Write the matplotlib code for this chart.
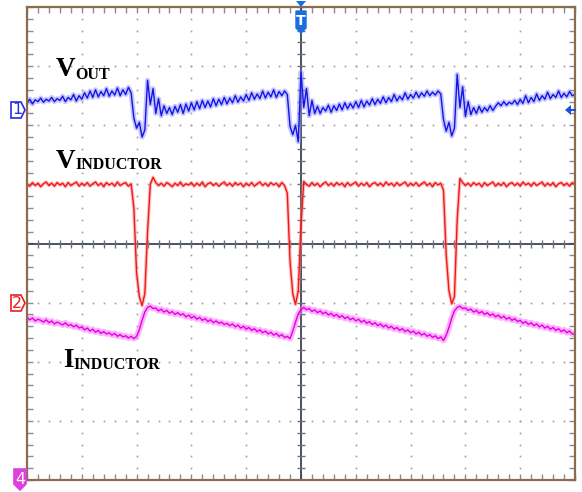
import numpy as np
import matplotlib
matplotlib.use("Agg")
from matplotlib import pyplot as plt
from matplotlib.patches import Polygon

W, H = 582, 492

# scope traces, one sample every 0.05 division, values in divisions
T_STEP = 0.05
v_out = [
    2.38, 2.44, 2.36, 2.43, 2.40, 2.46, 2.39, 2.44, 2.41, 2.47, 2.40, 2.45, 2.42, 2.49, 2.40, 2.47, 2.43, 2.52, 2.41, 2.50,
    2.44, 2.55, 2.46, 2.58, 2.47, 2.60, 2.48, 2.57, 2.50, 2.62, 2.49, 2.58, 2.51, 2.63, 2.50, 2.60, 2.52, 2.64, 2.55, 2.12,
    1.95, 2.05, 1.80, 1.92, 2.76, 2.35, 2.62, 2.20, 2.45, 2.16, 2.33, 2.20, 2.30, 2.18, 2.32, 2.22, 2.35, 2.20, 2.36, 2.24,
    2.38, 2.26, 2.40, 2.28, 2.42, 2.30, 2.41, 2.31, 2.45, 2.33, 2.44, 2.35, 2.47, 2.36, 2.46, 2.38, 2.50, 2.39, 2.48, 2.41,
    2.52, 2.42, 2.55, 2.44, 2.53, 2.45, 2.58, 2.46, 2.56, 2.48, 2.60, 2.47, 2.57, 2.50, 2.58, 2.52, 1.98, 1.84, 2.00, 1.72,
    2.90, 2.30, 2.62, 2.16, 2.42, 2.20, 2.32, 2.20, 2.30, 2.24, 2.34, 2.22, 2.33, 2.25, 2.36, 2.26, 2.38, 2.28, 2.37, 2.29,
    2.40, 2.30, 2.42, 2.31, 2.41, 2.34, 2.45, 2.35, 2.44, 2.37, 2.48, 2.38, 2.47, 2.40, 2.52, 2.41, 2.49, 2.43, 2.55, 2.44,
    2.52, 2.46, 2.56, 2.47, 2.55, 2.49, 2.58, 2.50, 2.56, 2.51, 2.58, 2.53, 2.10, 1.90, 2.05, 1.82, 1.95, 2.86, 2.30, 2.65,
    2.15, 2.40, 2.18, 2.30, 2.20, 2.32, 2.22, 2.30, 2.24, 2.33, 2.25, 2.32, 2.38, 2.33, 2.40, 2.34, 2.39, 2.36, 2.42, 2.35,
    2.44, 2.37, 2.50, 2.38, 2.47, 2.40, 2.53, 2.42, 2.50, 2.44, 2.56, 2.45, 2.52, 2.47, 2.58, 2.47, 2.54, 2.48, 2.57, 2.50,
    2.52,
]
v_inductor = [
    1.00, 0.97, 1.03, 0.98, 1.02, 0.96, 1.01, 1.04, 0.98, 1.02, 0.97, 1.03, 0.99, 1.02, 0.96, 1.03, 0.98, 1.01, 1.04, 0.97,
    1.02, 0.98, 1.03, 0.97, 1.01, 1.04, 0.98, 1.02, 0.96, 1.03, 0.99, 1.02, 0.97, 1.04, 0.98, 1.01, 1.03, 0.97, 1.01, 0.60,
    -0.50, -0.90, -1.05, -0.85, 0.20, 1.00, 1.12, 1.03, 0.98, 1.02, 0.97, 1.03, 1.00, 0.96, 1.02, 0.98, 1.04, 0.97, 1.01, 0.99,
    1.03, 0.97, 1.02, 0.98, 1.04, 0.96, 1.01, 1.03, 0.98, 1.02, 0.97, 1.01, 1.04, 0.98, 1.02, 0.97, 1.03, 0.99, 1.02, 0.96,
    1.02, 0.98, 1.03, 0.97, 1.01, 1.04, 0.98, 1.02, 0.97, 1.03, 0.99, 1.02, 0.96, 1.03, 0.98, 0.85, -0.30, -0.85, -1.03, -0.80,
    0.30, 1.05, 1.00, 0.97, 1.03, 0.98, 1.02, 0.96, 1.01, 1.04, 0.98, 1.02, 0.97, 1.03, 0.99, 1.02, 0.96, 1.03, 0.98, 1.01,
    1.04, 0.97, 1.02, 0.98, 1.03, 0.96, 1.01, 1.03, 0.98, 1.02, 0.97, 1.04, 0.99, 1.02, 0.97, 1.03, 0.98, 1.01, 1.04, 0.97,
    1.02, 0.98, 1.03, 0.97, 1.01, 1.04, 0.98, 1.02, 0.96, 1.03, 0.99, 1.02, 0.90, -0.20, -0.80, -1.02, -0.90, 0.40, 1.10, 1.03,
    0.98, 1.02, 0.97, 1.03, 0.99, 1.02, 0.96, 1.03, 0.98, 1.01, 1.04, 0.97, 1.02, 0.98, 1.03, 0.96, 1.01, 1.03, 0.98, 1.02,
    0.97, 1.04, 0.99, 1.02, 0.97, 1.03, 0.98, 1.01, 1.04, 0.97, 1.02, 0.98, 1.03, 0.96, 1.01, 1.03, 0.98, 1.02, 0.97, 1.03,
    1.00,
]
i_inductor = [
    -1.25, -1.29, -1.26, -1.31, -1.28, -1.30, -1.33, -1.29, -1.34, -1.31, -1.36, -1.33, -1.35, -1.38, -1.34, -1.39, -1.37, -1.41, -1.38, -1.43,
    -1.41, -1.46, -1.43, -1.48, -1.45, -1.50, -1.47, -1.52, -1.49, -1.53, -1.51, -1.55, -1.52, -1.57, -1.54, -1.58, -1.56, -1.60, -1.57, -1.61,
    -1.57, -1.46, -1.30, -1.16, -1.08, -1.06, -1.10, -1.09, -1.14, -1.11, -1.16, -1.13, -1.18, -1.15, -1.20, -1.17, -1.21, -1.19, -1.24, -1.21,
    -1.26, -1.23, -1.28, -1.25, -1.30, -1.27, -1.32, -1.29, -1.34, -1.31, -1.35, -1.33, -1.37, -1.35, -1.39, -1.36, -1.41, -1.38, -1.43, -1.40,
    -1.45, -1.42, -1.47, -1.44, -1.49, -1.46, -1.51, -1.48, -1.53, -1.50, -1.55, -1.52, -1.57, -1.54, -1.59, -1.57, -1.61, -1.48, -1.33, -1.19,
    -1.12, -1.08, -1.12, -1.10, -1.15, -1.12, -1.17, -1.14, -1.19, -1.16, -1.21, -1.18, -1.23, -1.20, -1.25, -1.22, -1.27, -1.24, -1.29, -1.26,
    -1.31, -1.28, -1.33, -1.30, -1.35, -1.32, -1.37, -1.34, -1.39, -1.36, -1.41, -1.38, -1.43, -1.40, -1.45, -1.42, -1.47, -1.44, -1.49, -1.46,
    -1.51, -1.48, -1.53, -1.50, -1.55, -1.52, -1.57, -1.54, -1.59, -1.56, -1.61, -1.58, -1.64, -1.55, -1.42, -1.26, -1.14, -1.08, -1.06, -1.10,
    -1.09, -1.13, -1.11, -1.16, -1.13, -1.18, -1.15, -1.20, -1.17, -1.22, -1.19, -1.24, -1.21, -1.26, -1.23, -1.28, -1.25, -1.30, -1.27, -1.32,
    -1.30, -1.35, -1.32, -1.37, -1.34, -1.39, -1.36, -1.41, -1.38, -1.43, -1.40, -1.45, -1.42, -1.47, -1.44, -1.49, -1.46, -1.51, -1.48, -1.53,
    -1.54,
]

t = np.arange(len(v_out)) * T_STEP

BORDER = "#8c6c4c"
GRID = "#9a9aaa"
CENTER = "#3c4452"


def fpos(x, y):
    # pixel position (from top-left) -> figure fraction
    return (x / W, 1 - y / H)


fig = plt.figure(figsize=(W / 100, H / 100), dpi=100)
ax = fig.add_axes([27 / W, 1 - 480 / H, 548 / W, 473 / H])
ax.set_xlim(0, 10)
ax.set_ylim(-4, 4)

minor_x = np.arange(0, 10.001, 0.2)
minor_y = np.arange(-4, 4.001, 0.2)

# dotted graticule
for gx in [1, 2, 3, 4, 6, 7, 8, 9]:
    ax.plot(np.full_like(minor_y, gx), minor_y, ls="none", marker="s", ms=1.2, mew=0, color=GRID, zorder=1)
for gy in [-3, -2, -1, 1, 2, 3]:
    ax.plot(minor_x, np.full_like(minor_x, gy), ls="none", marker="s", ms=1.2, mew=0, color=GRID, zorder=1)

# centre axes with tick marks
ax.axvline(5, color=CENTER, lw=1.3, zorder=2)
ax.axhline(0, color=CENTER, lw=1.3, zorder=2)
ax.plot(minor_x, np.zeros_like(minor_x), ls="none", marker="|", ms=6, mew=1, color="#6a7080", zorder=2)
ax.plot(np.full_like(minor_y, 5), minor_y, ls="none", marker="_", ms=6, mew=1, color="#6a7080", zorder=2)

ax.set_xticks(minor_x)
ax.set_yticks(minor_y)
ax.tick_params(direction="in", length=4, width=1, color="#8a8a9a", top=True, right=True,
               labelbottom=False, labelleft=False)
for s in ax.spines.values():
    s.set_color(BORDER)
    s.set_linewidth(1.6)
    s.set_zorder(5)

# traces: light band under a thin line to look like a noisy scope trace
ax.plot(t, v_out, color="#8c8cff", lw=3.6, alpha=0.5, zorder=3)
ax.plot(t, v_out, color="#1414e6", lw=1.0, zorder=4)
ax.plot(t, v_inductor, color="#ff8080", lw=2.6, alpha=0.5, zorder=3)
ax.plot(t, v_inductor, color="#f01818", lw=1.0, zorder=4)
ax.plot(t, i_inductor, color="#ff70ff", lw=4.2, alpha=0.55, zorder=3)
ax.plot(t, i_inductor, color="#e000e0", lw=1.0, zorder=4)

# labels
big = dict(family="Liberation Serif", weight="bold", fontsize=19.5, color="black", va="baseline", ha="left")
small = dict(family="Liberation Serif", weight="bold", fontsize=11.5, color="black", va="baseline", ha="left")
fig.text(*fpos(56, 76), "V", **big)
fig.text(*fpos(75, 79), "OUT", **small)
fig.text(*fpos(56, 168), "V", **big)
fig.text(*fpos(75, 169), "INDUCTOR", **small)
fig.text(*fpos(63, 367), "I", **big)
fig.text(*fpos(73, 369), "INDUCTOR", **small)


def tag(cx, cy, label, color, filled, point="right"):
    if point == "right":
        pts = [(cx - 7, cy - 8), (cx + 3, cy - 8), (cx + 7, cy), (cx + 3, cy + 8), (cx - 7, cy + 8)]
    else:
        pts = [(cx - 6, cy - 10), (cx + 6, cy - 10), (cx + 6, cy + 5), (cx, cy + 11), (cx - 6, cy + 5)]
    poly = Polygon([fpos(x, y) for x, y in pts], closed=True, transform=fig.transFigure,
                   facecolor=color if filled else "white", edgecolor=color, lw=1.2)
    fig.patches.append(poly)
    fig.text(*fpos(cx - 1 if point == "right" else cx, cy), label, color="white" if filled else color,
             fontsize=11.5, family="DejaVu Sans", ha="center", va="center")


tag(18, 110, "1", "#2a2ae0", False)
tag(18, 303, "2", "#e82020", False)
tag(20, 479, "4", "#e040e0", True, point="down")

# trigger marker
fig.patches.append(Polygon([fpos(x, y) for x, y in [(296, 1), (306, 1), (301, 7)]], closed=True,
                           transform=fig.transFigure, facecolor="#1a6ee0", edgecolor="none"))
fig.patches.append(Polygon([fpos(x, y) for x, y in [(296, 11), (306, 11), (306, 28), (301, 33), (296, 28)]],
                           closed=True, transform=fig.transFigure, facecolor="#1a6ee0", edgecolor="#1a6ee0"))
fig.text(*fpos(301, 21), "T", color="white", fontsize=10, weight="bold", family="DejaVu Sans",
         ha="center", va="center")

# ch1 offset arrow on the right edge
fig.patches.append(Polygon([fpos(x, y) for x, y in [(565, 110), (571, 105), (571, 115)]], closed=True,
                           transform=fig.transFigure, facecolor="#1a50e0", edgecolor="none"))
fig.add_artist(plt.Line2D([569 / W, 575 / W], [1 - 110 / H, 1 - 110 / H], color="#1a50e0", lw=1.5,
                          transform=fig.transFigure))

fig.savefig("out.png", dpi=100, facecolor="white")
